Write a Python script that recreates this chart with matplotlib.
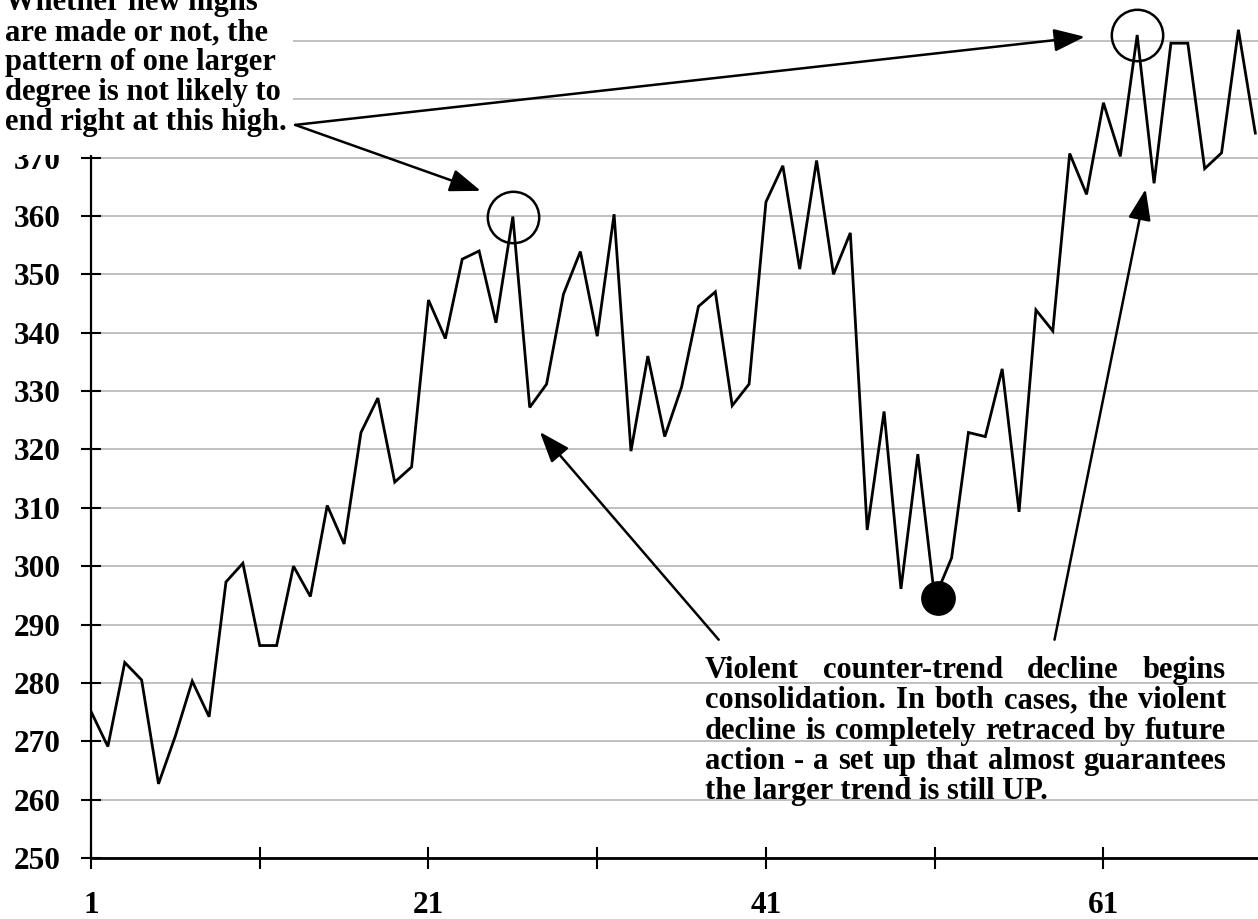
import matplotlib
matplotlib.use("Agg")
import matplotlib.pyplot as plt
from matplotlib.patches import Rectangle

# Index values (sessions 1..70)
sessions = list(range(1, 71))
closes = [
    275.1, 269.1, 283.5, 280.5, 262.7, 270.9, 280.3, 274.2, 297.3, 300.5,
    286.4, 286.4, 300.0, 294.8, 310.4, 303.8, 322.9, 328.8, 314.4, 317.0,
    345.6, 339.0, 352.6, 354.0, 341.7, 359.9, 327.2, 331.2, 346.6, 353.9,
    339.4, 360.3, 319.7, 336.0, 322.2, 330.7, 344.5, 347.0, 327.5, 331.2,
    362.4, 368.6, 350.9, 369.5, 350.0, 357.1, 306.2, 326.5, 296.1, 319.2,
    294.5, 301.4, 322.9, 322.2, 333.8, 309.3, 343.9, 340.3, 370.7, 363.7,
    379.4, 370.2, 391.0, 365.6, 389.6, 389.6, 368.1, 370.8, 391.9, 374.2,
]
y_ticks = list(range(250, 400, 10))
x_ticks = [1, 11, 21, 31, 41, 51, 61]
x_labels = ["1", "", "21", "", "41", "", "61"]

# highlighted points (index into sessions)
open_circles = [25, 62]
low_point = 50

note_top = ["Whether new highs", "are made or not, the", "pattern of one larger",
            "degree is not likely to", "end right at this high."]
note_bottom = ["Violent counter-trend decline begins",
               "consolidation. In both cases, the violent",
               "decline is completely retraced by future",
               "action - a set up that almost guarantees",
               "the larger trend is still UP."]

W, H = 1258, 919
serif = ["Liberation Serif", "DejaVu Serif"]
fig = plt.figure(figsize=(W / 100, H / 100), dpi=100)
ax = fig.add_axes([91 / W, 61 / H, 1 - 91 / W, 1 - 61 / H])

ax.plot(sessions, closes, color="black", lw=2, solid_joinstyle="miter", zorder=3)
for i in open_circles:
    ax.plot(sessions[i], closes[i], "o", ms=37, mfc="none", mec="black", mew=1.8,
            zorder=4, clip_on=False)
ax.plot(sessions[low_point] + 0.2, closes[low_point], "o", ms=24, color="black", zorder=4)

ax.set_yticks(y_ticks)
ax.set_xticks(x_ticks)
ax.set_xticklabels(x_labels)
ax.set_xlim(1, 70.16)
ax.set_ylim(250, 397)
ax.grid(axis="y", color="#c0c0c0", lw=1.4, zorder=0)
ax.set_axisbelow(True)
for s in ["top", "right"]:
    ax.spines[s].set_visible(False)
ax.spines["left"].set_linewidth(1.6)
ax.spines["bottom"].set_linewidth(2)
ax.tick_params(axis="y", direction="inout", length=15, width=1.5, pad=14)
ax.tick_params(axis="x", direction="inout", length=16, width=1.5, pad=16)
for lab in ax.get_xticklabels() + ax.get_yticklabels():
    lab.set_family(serif)
    lab.set_weight("bold")
    lab.set_fontsize(22.5)

# arrows
arrow = dict(arrowstyle="-|>,head_length=0.95,head_width=0.35", lw=1.8, color="black",
             mutation_scale=20, shrinkA=0, shrinkB=0)
ax.annotate("", xy=(24.1, 364.3), xytext=(13.1, 375.6), arrowprops=arrow)
ax.annotate("", xy=(59.9, 390.7), xytext=(13.1, 375.6), arrowprops=arrow)
ax.annotate("", xy=(27.6, 323.0), xytext=(38.2, 287.4), arrowprops=arrow)
ax.annotate("", xy=(63.5, 364.6), xytext=(58.1, 287.4), arrowprops=arrow)

# white box behind the top-left note (hides the top labels)
fig.patches.append(Rectangle((0, 1 - 155 / H), 293 / W, 155 / H, transform=fig.transFigure,
                             facecolor="white", edgecolor="none", zorder=5))
fsize = 22
for k, line in enumerate(note_top):
    fig.text(5 / W, 1 - (10 + 30 * k) / H, line, family=serif, weight="bold",
             fontsize=fsize, va="baseline", ha="left", zorder=6)

# justified note at the bottom right
renderer = fig.canvas.get_renderer()
left, right = 705, 1226
for k, line in enumerate(note_bottom):
    yb = 1 - (678 + 30.3 * k) / H
    words = line.split()
    if k == len(note_bottom) - 1:
        fig.text(left / W, yb, line, family=serif, weight="bold", fontsize=fsize,
                 va="baseline", ha="left", zorder=6)
        continue
    texts = [fig.text(0, yb, w, family=serif, weight="bold", fontsize=fsize,
                      va="baseline", ha="left", zorder=6) for w in words]
    widths = [t.get_window_extent(renderer).width for t in texts]
    gap = (right - left - sum(widths)) / (len(words) - 1)
    x = left
    for t, wd in zip(texts, widths):
        t.set_x(x / W)
        x += wd + gap

fig.savefig("out.png", dpi=100)
